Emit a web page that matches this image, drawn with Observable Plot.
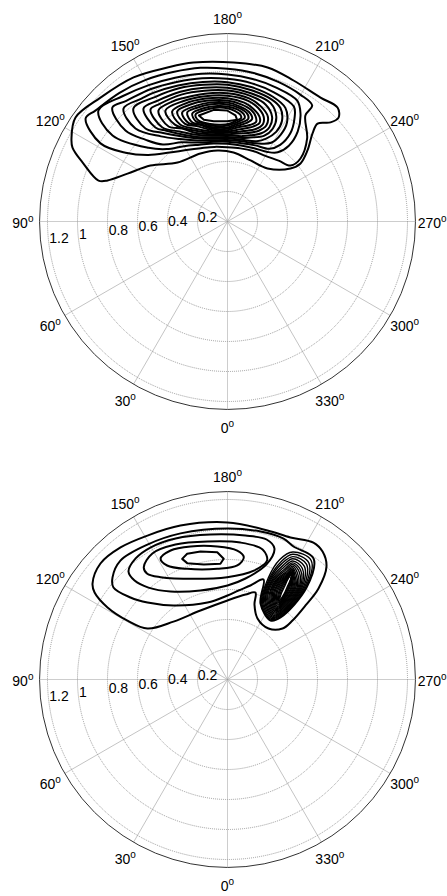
<!DOCTYPE html>
<html>
<head>
<meta charset="utf-8">
<script src="https://cdn.jsdelivr.net/npm/d3@7"></script>
<script src="https://cdn.jsdelivr.net/npm/@observablehq/plot@0.6"></script>
<style>
  body { margin: 0; background: #fff; }
  #chart svg { display: block; }
</style>
</head>
<body>
<div id="chart"></div>
<script>
// ---- axis ticks ----
const angleTicks = [0, 30, 60, 90, 120, 150, 180, 210, 240, 270, 300, 330];
const radiusTicks = [0.2, 0.4, 0.6, 0.8, 1.0, 1.2];
const radiusTickLabels = ["0.2", "0.4", "0.6", "0.8", "1", "1.2"];
const rMax = 1.253;

// ---- top panel contours: [angle (deg), radius] ----
const topContours = [
  [[118.0,1.178],[124.4,1.228],[134.3,1.183],[146.9,1.147],[158.7,1.102],[167.9,1.084],[182.2,1.061],[194.6,1.061],[205.1,1.038],[216.9,1.033],[224.0,1.056],[226.9,1.014],[226.1,0.953],[222.6,0.887],[224.0,0.816],[228.4,0.713],[231.5,0.622],[229.9,0.549],[217.0,0.443],[200.7,0.435],[185.0,0.462],[172.0,0.478],[158.3,0.488],[139.7,0.515],[126.0,0.635],[115.6,0.739],[108.9,0.845],[107.6,0.902],[111.9,1.035],[115.5,1.145]],
  [[126.0,1.169],[130,1.15],[140,1.12],[150,1.09],[160,1.06],[170,1.04],[180,1.018],[190,1.005],[200,0.99],[210,0.975],[216.1,0.958],[216.3,0.877],[223.8,0.767],[229.2,0.643],[228.4,0.562],[220,0.53],[210,0.505],[200,0.50],[190,0.495],[180,0.495],[170,0.505],[160,0.52],[150,0.55],[140,0.60],[130,0.69],[124,0.82],[121.6,0.994]],
  [[130.7,1.135],[140,1.09],[150,1.05],[160,1.02],[170,1.0],[180,0.98],[190,0.965],[200,0.95],[210,0.93],[214,0.87],[218,0.76],[219,0.65],[216,0.57],[210,0.535],[200,0.52],[190,0.515],[180,0.518],[170,0.528],[160,0.545],[150,0.58],[140,0.63],[133,0.72],[126.8,0.957]],
  [[134.7,1.08],[140,1.05],[150,1.02],[160,0.99],[170,0.97],[180,0.951],[190,0.935],[200,0.915],[210,0.885],[213,0.82],[215.5,0.72],[214.5,0.62],[210,0.56],[200,0.54],[190,0.53],[180,0.532],[170,0.54],[160,0.56],[150,0.61],[140,0.67],[135,0.77],[131.7,0.911]],
  [[137.4,1.024],[145,1.0],[150,0.99],[160,0.965],[170,0.945],[180,0.929],[190,0.91],[200,0.885],[207,0.85],[211,0.77],[211.5,0.68],[209,0.6],[200,0.555],[190,0.543],[180,0.543],[170,0.55],[160,0.575],[150,0.635],[142,0.72],[135.3,0.872]],
  [[140.2,0.98],[150,0.96],[160,0.945],[170,0.925],[180,0.911],[190,0.89],[200,0.865],[205,0.835],[208.5,0.76],[208.5,0.68],[205,0.61],[200,0.57],[190,0.553],[180,0.553],[170,0.56],[160,0.59],[150,0.66],[144,0.73],[138.6,0.827]],
  [[143.4,0.939],[150,0.93],[160,0.92],[170,0.905],[180,0.891],[190,0.87],[200,0.84],[205,0.77],[206,0.69],[203,0.62],[195,0.58],[190,0.565],[180,0.563],[170,0.57],[160,0.60],[150,0.68],[146,0.73],[142.5,0.79]],
  [[145.5,0.906],[150,0.905],[160,0.9],[170,0.885],[180,0.873],[190,0.852],[198,0.82],[203,0.76],[204,0.69],[201,0.63],[195,0.595],[190,0.578],[180,0.573],[170,0.58],[160,0.615],[152,0.68],[145.3,0.762]],
  [[148.1,0.871],[155,0.88],[160,0.875],[170,0.865],[180,0.855],[190,0.833],[196,0.80],[201,0.75],[202,0.69],[199,0.64],[193,0.605],[185,0.588],[180,0.582],[170,0.59],[160,0.63],[154,0.69],[148.2,0.745]],
  [[150.8,0.848],[160,0.855],[170,0.848],[180,0.838],[190,0.815],[195,0.785],[199,0.74],[200,0.69],[197,0.645],[190,0.612],[180,0.591],[170,0.60],[160,0.645],[151.5,0.735]],
  [[153.3,0.821],[160,0.835],[170,0.832],[180,0.822],[188,0.80],[193,0.77],[197,0.73],[198,0.69],[195,0.655],[188,0.622],[180,0.60],[170,0.61],[160,0.66],[154,0.72]],
  [[155.4,0.806],[162,0.818],[170,0.817],[180,0.807],[187,0.785],[192,0.76],[195,0.725],[196,0.69],[193,0.66],[186,0.63],[180,0.609],[170,0.62],[162,0.67],[156.5,0.71]],
  [[157.4,0.787],[165,0.80],[172,0.802],[180,0.793],[186,0.772],[191,0.745],[193.5,0.705],[191,0.67],[185,0.638],[180,0.618],[170,0.63],[164,0.67],[158.5,0.705]],
  [[159.7,0.775],[165,0.785],[172,0.789],[180,0.78],[186,0.76],[190,0.735],[191.5,0.70],[189,0.672],[184,0.645],[180,0.627],[170,0.64],[165,0.67],[160.5,0.70]],
  [[161.9,0.757],[168,0.772],[175,0.773],[180,0.767],[185,0.75],[188.5,0.725],[189.5,0.70],[187,0.675],[183,0.652],[178,0.637],[170,0.65],[166,0.675],[162.5,0.70]],
  [[163.4,0.745],[170,0.76],[176,0.762],[180,0.755],[184,0.738],[187,0.715],[187.5,0.695],[185,0.675],[181,0.652],[176,0.647],[170,0.66],[164,0.70]]
];
const topPeak = [
  [[164.9,0.732],[173,0.75],[179.8,0.74],[184.3,0.709],[185.4,0.681],[180,0.669],[172.2,0.675],[166.9,0.696]]
];

// ---- bottom panel: broad lobe contours (outer two also enclose the ridge) ----
const bottomLobe = [
  [[125.4,1.104],[132.4,1.147],[141.0,1.133],[150.9,1.098],[163.0,1.073],[180,1.047],[195.0,1.029],[203.9,1.036],[212.1,1.078],[216.6,1.063],[221.2,1.002],[225,0.858],[226.5,0.717],[227.8,0.585],[227.2,0.5],[218.8,0.436],[206.2,0.453],[199.8,0.531],[197.8,0.609],[192.0,0.579],[180,0.527],[158.6,0.494],[137.0,0.528],[122.5,0.633],[120.5,0.774],[121.0,0.933],[123.2,1.059]],
  [[131.6,1.025],[138.0,1.067],[149.3,1.046],[162.2,1.023],[180,1.007],[192.6,1.011],[201.7,1.011],[206.4,0.99],[215.4,0.990],[220.7,0.808],[220.5,0.544],[216.1,0.487],[203.5,0.552],[199.8,0.709],[193.7,0.645],[187.0,0.598],[180,0.56],[165.4,0.53],[143.9,0.611],[133.9,0.74],[130.2,0.847],[128.9,0.977]],
  [[137.5,0.977],[142.8,1.013],[149.7,1.019],[159.8,1.002],[173.3,0.973],[187.1,0.967],[195.6,0.969],[199.7,0.928],[198.7,0.81],[190.1,0.684],[180,0.627],[163.1,0.62],[147.1,0.699],[139.3,0.808],[136.8,0.905]],
  [[143.3,0.934],[149.2,0.978],[158.9,0.964],[171.8,0.929],[185.4,0.917],[195.1,0.898],[198.4,0.836],[193.6,0.747],[179.8,0.682],[161.5,0.708],[146.8,0.815],[142.8,0.885]],
  [[151.0,0.92],[156.2,0.94],[164.5,0.92],[175.6,0.889],[184.3,0.862],[187.6,0.823],[184.9,0.763],[174.7,0.741],[160.0,0.785],[152.1,0.86]]
];
const bottomLobePeak = [
  [[159.4,0.859],[162.2,0.88],[168.1,0.872],[175.4,0.851],[178.2,0.805],[176.5,0.773],[168.4,0.783],[160.9,0.821]]
];
// ---- bottom panel: sharp ridge contours (outer to inner) ----
const bottomSpike = [
  [[207.1,0.955],[215.1,0.970],[220.3,0.804],[220.1,0.551],[216.0,0.495],[204.0,0.559],[201.9,0.730],[203.5,0.871]],
  [[207.5,0.941],[214.8,0.949],[219.9,0.800],[219.8,0.558],[215.8,0.503],[204.4,0.565],[202.5,0.730],[204.4,0.861]],
  [[208.0,0.928],[214.5,0.931],[219.5,0.796],[219.4,0.566],[215.7,0.511],[204.8,0.572],[203.0,0.730],[205.1,0.853]],
  [[208.4,0.915],[214.2,0.912],[219.0,0.792],[219.0,0.573],[215.5,0.519],[205.3,0.579],[203.5,0.730],[205.9,0.844]],
  [[208.8,0.902],[213.9,0.894],[218.6,0.789],[218.7,0.580],[215.4,0.527],[205.7,0.585],[204.1,0.730],[206.6,0.835]],
  [[209.2,0.891],[213.7,0.878],[218.2,0.785],[218.3,0.588],[215.2,0.535],[206.2,0.592],[204.6,0.730],[207.3,0.827]],
  [[209.5,0.881],[213.5,0.864],[217.8,0.781],[217.9,0.595],[215.1,0.543],[206.6,0.599],[205.1,0.730],[207.8,0.820]],
  [[209.8,0.871],[213.3,0.849],[217.4,0.777],[217.6,0.602],[214.9,0.551],[207.1,0.605],[205.7,0.730],[208.4,0.813]],
  [[210.1,0.862],[213.1,0.837],[217.0,0.773],[217.2,0.609],[214.8,0.559],[207.5,0.612],[206.2,0.730],[208.9,0.808]],
  [[210.4,0.855],[212.9,0.827],[216.5,0.769],[216.8,0.617],[214.6,0.566],[208.0,0.619],[206.7,0.731],[209.3,0.803]],
  [[210.5,0.850],[212.8,0.819],[216.1,0.765],[216.4,0.624],[214.5,0.574],[208.4,0.626],[207.2,0.731],[209.7,0.799]],
  [[210.7,0.845],[212.7,0.812],[215.7,0.761],[216.1,0.631],[214.3,0.582],[208.9,0.632],[207.8,0.731],[210.0,0.795]],
  [[210.9,0.840],[212.6,0.805],[215.3,0.757],[215.7,0.638],[214.2,0.590],[209.3,0.639],[208.3,0.731],[210.2,0.792]],
  [[211.0,0.837],[212.5,0.800],[214.9,0.753],[215.3,0.646],[214.0,0.598],[209.8,0.646],[208.8,0.731],[210.4,0.790]],
  [[211.1,0.834],[212.5,0.796],[214.5,0.750],[215.0,0.653],[213.9,0.606],[210.2,0.652],[209.4,0.731],[210.6,0.788]],
  [[211.1,0.832],[212.4,0.793],[214.0,0.746],[214.6,0.660],[213.7,0.614],[210.7,0.659],[209.9,0.731],[210.7,0.786]],
  [[211.2,0.830],[212.3,0.790],[213.6,0.742],[214.2,0.668],[213.6,0.622],[211.1,0.666],[210.4,0.731],[210.8,0.785]],
  [[211.3,0.828],[212.3,0.788],[213.2,0.738],[213.9,0.675],[213.4,0.630],[211.6,0.672],[211.0,0.731],[210.9,0.784]],
  [[211.3,0.827],[212.3,0.786],[212.8,0.734],[213.5,0.682],[213.3,0.638],[212.0,0.679],[211.5,0.731],[211.0,0.783]]
];

// ---- polar helpers (0 deg at bottom, angles run clockwise) ----
const rad = a => a * Math.PI / 180;
const east = (a, r) => -r * Math.sin(rad(a));
const north = (a, r) => -r * Math.cos(rad(a));
const PX = 150;           // pixels per radius unit
const CX = 227, CY = 221; // centre of each panel inside its svg

function rows(contours) {
  return contours.flatMap((c, i) => c.map(([a, r]) => ({id: i, a, r})));
}

function contourLine(contours, strokeWidth, curve) {
  return Plot.line(rows(contours), {
    x: d => east(d.a, d.r), y: d => north(d.a, d.r), z: "id",
    curve, stroke: "black", strokeWidth, strokeLinejoin: "round", fill: "none"
  });
}

function polarPanel(height, lines) {
  const labelR = 1.364;
  const svg = Plot.plot({
    width: 447, height, margin: 0,
    x: {domain: [-CX / PX, (447 - CX) / PX], axis: null},
    y: {domain: [-(height - CY) / PX, CY / PX], axis: null},
    r: {type: "linear", domain: [0, 1], range: [0, PX]},
    style: {fontFamily: "'Liberation Sans', Arial, Helvetica, sans-serif", fontSize: "14px", background: "#fff", color: "#000", overflow: "visible"},
    marks: [
      Plot.link(angleTicks.filter(a => a % 90 !== 0), {x1: () => 0, y1: () => 0, x2: a => east(a, rMax), y2: a => north(a, rMax), stroke: "#c4c4c4", strokeWidth: 1}),
      Plot.link(angleTicks.filter(a => a % 90 === 0), {x1: () => 0, y1: () => 0, x2: a => east(a, rMax), y2: a => north(a, rMax), stroke: "#9a9a9a", strokeWidth: 1, strokeDasharray: "1,1"}),
      Plot.dot(radiusTicks, {x: () => 0, y: () => 0, r: d => d, stroke: "#9a9a9a", strokeWidth: 1, strokeDasharray: "1,1", fill: "none"}),
      Plot.dot([rMax], {x: () => 0, y: () => 0, r: d => d, stroke: "#333", strokeWidth: 1, fill: "none"}),
      ...lines,
      Plot.text(radiusTicks, {x: d => east(82, d), y: d => north(82, d), text: (d, i) => radiusTickLabels[i], textAnchor: "start", lineAnchor: "middle", dy: -8, fontSize: 14, fill: "#000"}),
      Plot.text(angleTicks, {x: a => east(a, labelR), y: a => north(a, labelR), text: a => String(a), textAnchor: "middle", lineAnchor: "middle", dy: 2.5, fontSize: 14, fill: "#000"})
    ]
  });
  const angleNames = new Set(angleTicks.map(String));
  svg.querySelectorAll("text").forEach(t => {
    const s = t.textContent.trim();
    if (!angleNames.has(s)) return;
    const sup = document.createElementNS("http://www.w3.org/2000/svg", "tspan");
    sup.setAttribute("dy", "-6");
    sup.setAttribute("font-size", "10");
    sup.textContent = "o";
    t.appendChild(sup);
  });
  return svg;
}

const chart = document.getElementById("chart");
chart.appendChild(polarPanel(458, [
  contourLine(topContours, 2, "catmull-rom-closed"),
  contourLine(topPeak, 2, "linear-closed")
]));
chart.appendChild(polarPanel(438, [
  contourLine(bottomLobe, 2, "catmull-rom-closed"),
  contourLine(bottomLobePeak, 2, "linear-closed"),
  contourLine(bottomSpike, 1.4, "catmull-rom-closed")
]));
</script>
</body>
</html>
